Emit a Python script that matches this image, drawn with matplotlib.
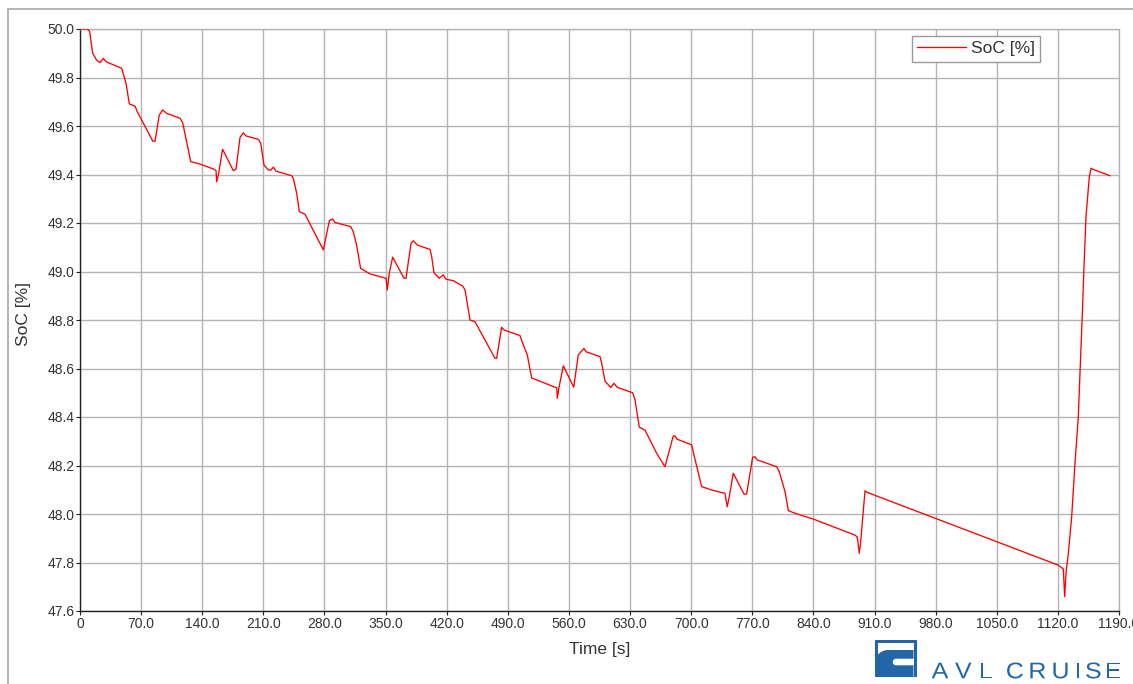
import matplotlib
matplotlib.use("Agg")
import numpy as np
import matplotlib.pyplot as plt
from matplotlib.patches import Rectangle, PathPatch
from matplotlib.path import Path
from matplotlib.textpath import TextPath
from matplotlib.font_manager import FontProperties
from matplotlib.transforms import Affine2D

plt.rcParams['font.family'] = ['Liberation Sans', 'DejaVu Sans']

# State of charge trace
time_s = [
    0, 8.4, 11, 14.5, 19, 22.9, 26.7, 29.8, 47.7, 52.7, 56.5, 63, 65.6, 83.3,
    85.9, 90.8, 94.7, 99.3, 114.5, 117.6, 126.8, 137.4, 152.7, 155.8, 156.5,
    158.8, 163.3, 175.6, 178.7, 183.3, 187.1, 190.1, 204.2, 207, 210.7, 215.7,
    218.5, 221.4, 224.5, 242.4, 244.3, 248.2, 251.2, 257.7, 278.7, 285.6,
    289.3, 292.1, 310, 313, 316.8, 321.4, 332.1, 350.5, 351.9, 354.2, 358.1,
    371.1, 373.4, 379.1, 381.8, 386.4, 400.9, 402.8, 405.4, 411.5, 416.1,
    419.2, 427.6, 438.3, 441, 446.7, 452.4, 475.3, 477.2, 482.9, 485.6,
    503.9, 507, 512.3, 517.3, 546, 546.7, 548.5, 553.6, 565.5, 570.7, 577.2,
    579.5, 595.6, 597.5, 601.3, 607.8, 611.6, 615.4, 633, 635.7, 640.6,
    647.1, 652.8, 660.5, 670, 679.5, 681.4, 684.1, 700.6, 703.2, 712, 723.4,
    738.7, 741.3, 743.6, 748.2, 760.5, 763.5, 770.4, 773.1, 775.7, 797.9,
    800.9, 807.5, 811.3, 818.9, 839.9, 887.6, 890.3, 892.5, 894, 899.1,
    901.0, 1120.5, 1126.2, 1127.8, 1129.4, 1132, 1135.8, 1139.6, 1143.4,
    1145.3, 1147.9, 1149.9, 1152.2, 1156, 1158, 1160.5, 1179.6,
]
soc_pct = [
    50.000, 50.000, 49.990, 49.900, 49.872, 49.861, 49.879, 49.865, 49.838,
    49.776, 49.691, 49.682, 49.659, 49.538, 49.537, 49.645, 49.666, 49.652,
    49.632, 49.614, 49.453, 49.443, 49.423, 49.416, 49.370, 49.405, 49.504,
    49.416, 49.422, 49.553, 49.572, 49.559, 49.545, 49.529, 49.439, 49.419,
    49.418, 49.430, 49.414, 49.395, 49.384, 49.322, 49.247, 49.236, 49.089,
    49.210, 49.217, 49.202, 49.185, 49.164, 49.109, 49.013, 48.990, 48.972,
    48.924, 48.993, 49.059, 48.972, 48.972, 49.116, 49.127, 49.109, 49.091,
    49.061, 48.995, 48.972, 48.986, 48.968, 48.962, 48.940, 48.924, 48.800,
    48.793, 48.642, 48.642, 48.770, 48.759, 48.736, 48.704, 48.656, 48.561,
    48.520, 48.477, 48.520, 48.611, 48.523, 48.656, 48.683, 48.669, 48.649,
    48.621, 48.548, 48.522, 48.539, 48.522, 48.500, 48.470, 48.358, 48.346,
    48.305, 48.250, 48.195, 48.322, 48.322, 48.308, 48.285, 48.243, 48.113,
    48.099, 48.085, 48.030, 48.071, 48.168, 48.082, 48.082, 48.234, 48.236,
    48.223, 48.195, 48.174, 48.092, 48.014, 48.003, 47.979, 47.913, 47.904,
    47.838, 47.880, 48.096, 48.090, 47.789, 47.773, 47.659, 47.762, 47.837,
    47.989, 48.210, 48.400, 48.580, 48.814, 49.020, 49.226, 49.391, 49.426,
    49.421, 49.395,
]

x_ticks = [0, 70, 140, 210, 280, 350, 420, 490, 560, 630, 700, 770, 840,
           910, 980, 1050, 1120, 1190]
x_tick_labels = ['0'] + ['%.1f' % v for v in x_ticks[1:]]
y_ticks = [47.6, 47.8, 48.0, 48.2, 48.4, 48.6, 48.8, 49.0, 49.2, 49.4,
           49.6, 49.8, 50.0]
y_tick_labels = ['%.1f' % v for v in y_ticks]

W, H = 1133, 684
fig = plt.figure(figsize=(W / 100, H / 100), dpi=100)
fig.patch.set_facecolor('white')

# Pixel-space layer for the panel frame and the logo
deco = fig.add_axes([0, 0, 1, 1])
deco.set_xlim(0, W)
deco.set_ylim(H, 0)
deco.set_axis_off()
deco.patch.set_visible(False)

ax = fig.add_axes([80 / W, 1 - 611 / H, 1039 / W, 582 / H])
ax.plot(time_s, soc_pct, color='#ff0000', lw=0.95, label='SoC [%]', zorder=3)

ax.set_xlim(0, 1190)
ax.set_ylim(47.6, 50.0)
ax.set_xticks(x_ticks)
ax.set_xticklabels(x_tick_labels)
ax.set_yticks(y_ticks)
ax.set_yticklabels(y_tick_labels)

grid_c = '#b4b4b4'
ax.grid(True, color=grid_c, lw=1.0, zorder=0)
ax.set_axisbelow(True)
for side in ('top', 'right'):
    ax.spines[side].set_color(grid_c)
    ax.spines[side].set_linewidth(1.0)
for side in ('left', 'bottom'):
    ax.spines[side].set_color('#202020')
    ax.spines[side].set_linewidth(1.0)

ax.tick_params(axis='both', direction='out', length=3, width=0.8,
               color='#202020', labelsize=10, labelcolor='#333333')
ax.tick_params(axis='x', pad=1.5)
ax.tick_params(axis='y', pad=1)

ax.set_xlabel('Time [s]', fontsize=12.5, color='#333333')
ax.set_ylabel('SoC [%]', fontsize=12.5, color='#333333')
ax.xaxis.set_label_coords(0.5, -(642 - 611) / 582)
ax.yaxis.set_label_coords(-(80 - 31) / 1039, 0.51)

leg = ax.legend(loc='upper left', bbox_to_anchor=(912 / W, 1 - 36 / H),
                bbox_transform=fig.transFigure, borderaxespad=0,
                fancybox=False, framealpha=1, edgecolor='#9a9a9a',
                fontsize=12.5, handlelength=2.8, handletextpad=0.3,
                borderpad=0.3)
leg.get_frame().set_linewidth(1.0)
for t in leg.get_texts():
    t.set_color('#333333')

# Outer panel frame
frame_c = '#a8a8a8'
deco.plot([7, W], [9, 9], color=frame_c, lw=1.2, solid_capstyle='butt')
deco.plot([7.5, 7.5], [9, H], color=frame_c, lw=1.2, solid_capstyle='butt')

# Logo mark
blue = '#2366a8'
for (x0, y0, x1, y1) in [(875, 640, 917, 642.7), (913.5, 640, 917, 677),
                         (875, 640, 877.5, 677)]:
    deco.add_patch(Rectangle((x0, y0), x1 - x0, y1 - y0, facecolor=blue,
                             edgecolor='none'))
r = 13.0
arc = np.linspace(np.pi, 1.5 * np.pi, 16)
slot = np.linspace(1.5 * np.pi, 0.5 * np.pi, 12)
c_verts = [(875, 677), (875, 650 + r)]
c_verts += [(875 + r + r * np.cos(a), 650 + r + r * np.sin(a)) for a in arc]
c_verts += [(913.5, 650), (913.5, 658.7)]
c_verts += [(896 + 3.3 * np.cos(a), 662 + 3.3 * np.sin(a)) for a in slot]
c_verts += [(913.5, 665.3), (913.5, 677), (875, 677)]
deco.add_patch(PathPatch(Path(c_verts, closed=True), facecolor=blue,
                         edgecolor='none'))

# Logo lettering
fp = FontProperties(family='Liberation Sans')
logo_chars = ['A', 'V', 'L', 'C', 'R', 'U', 'I', 'S', 'E']
logo_centers = [940, 963.3, 986.2, 1015, 1037.8, 1060.5, 1078, 1093.3, 1113.3]
for ch, cx in zip(logo_chars, logo_centers):
    tp = TextPath((0, 0), ch, size=22.7, prop=fp)
    ext = tp.get_extents()
    mid = 0.5 * (ext.x0 + ext.x1)
    tr = Affine2D().translate(-mid, 0).scale(1.1, -1).translate(cx, 678.3)
    deco.add_patch(PathPatch(tr.transform_path(tp), facecolor=blue,
                             edgecolor='none'))

fig.savefig('out.png', dpi=100)
